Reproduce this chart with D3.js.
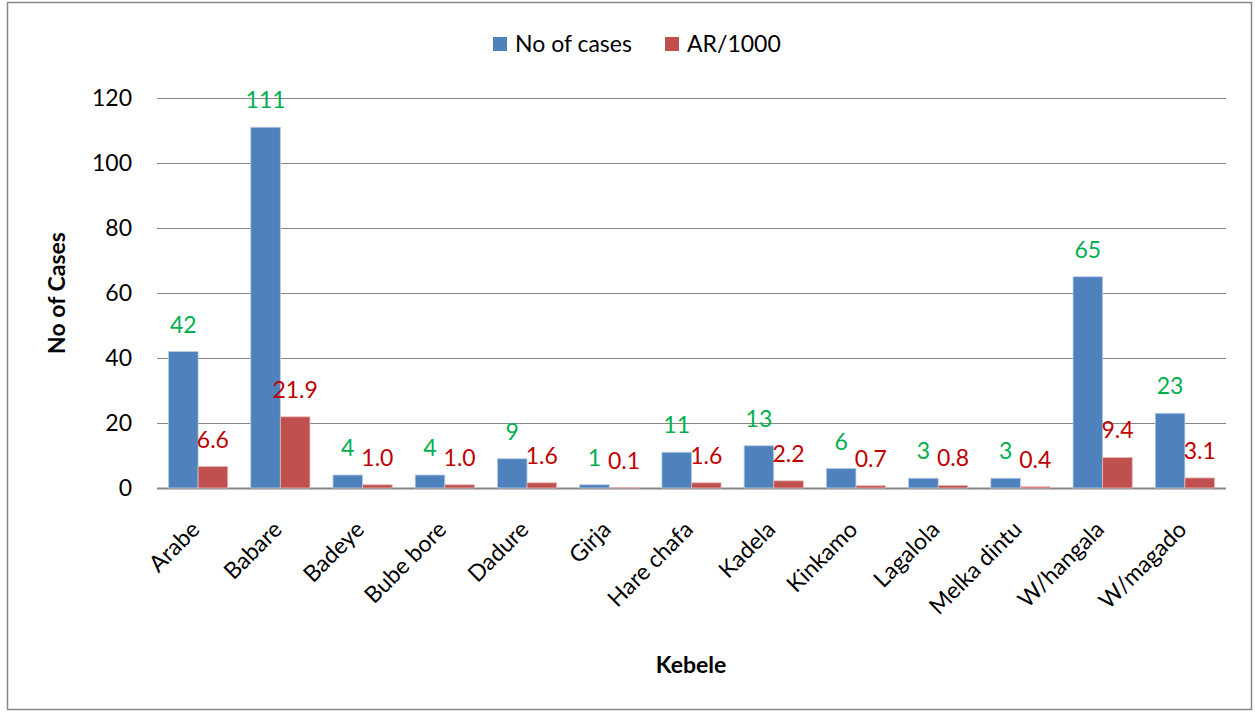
<!DOCTYPE html>
<html>
<head>
<meta charset="utf-8">
<script src="https://cdn.jsdelivr.net/npm/d3@7"></script>
<style>
	body { margin: 0; background: #fff; }
	text { font-family: Lato, "Open Sans", sans-serif; }
</style>
</head>
<body>
<div id="chart"></div>
<script>
var kebeles = ["Arabe", "Babare", "Badeye", "Bube bore", "Dadure", "Girja", "Hare chafa", "Kadela", "Kinkamo", "Lagalola", "Melka dintu", "W/hangala", "W/magado"];
var cases = [42, 111, 4, 4, 9, 1, 11, 13, 6, 3, 3, 65, 23];
var attackRate = [6.6, 21.9, 1.0, 1.0, 1.6, 0.1, 1.6, 2.2, 0.7, 0.8, 0.4, 9.4, 3.1];
var yTicks = [0, 20, 40, 60, 80, 100, 120];
var seriesNames = ["No of cases", "AR/1000"];

var width = 1255, height = 712;
var margins = { left: 157, right: 29, top: 98, bottom: 224 };
var colors = { cases: "#4f81bd", ar: "#c0504d", caseLabel: "#00b050", arLabel: "#c00000", grid: "#868686" };
var fontSize = "23px";

var svg = d3.select("#chart").append("svg")
	.attr("width", width)
	.attr("height", height);

// outer frame
svg.append("rect")
	.attr("x", 7.5).attr("y", 2.5)
	.attr("width", 1244).attr("height", 707)
	.attr("fill", "none")
	.attr("stroke", colors.grid)
	.attr("stroke-width", 1.5);

var x = d3.scaleBand()
	.domain(kebeles)
	.range([margins.left, width - margins.right])
	.paddingInner(0.28)
	.paddingOuter(0.14);

var xSub = d3.scaleBand()
	.domain(["cases", "ar"])
	.range([0, x.bandwidth()]);

var y = d3.scaleLinear()
	.domain([0, 120])
	.range([height - margins.bottom, margins.top]);

// gridlines
svg.append("g")
	.selectAll("line")
	.data(yTicks)
	.join("line")
	.attr("x1", margins.left)
	.attr("x2", width - margins.right)
	.attr("y1", function(d) { return Math.round(y(d)) + 0.5; })
	.attr("y2", function(d) { return Math.round(y(d)) + 0.5; })
	.attr("stroke", colors.grid)
	.attr("stroke-width", function(d) { return d === 0 ? 2 : 1.2; });

// y tick labels
svg.append("g")
	.selectAll("text")
	.data(yTicks)
	.join("text")
	.attr("x", 132)
	.attr("y", function(d) { return y(d) + 8; })
	.attr("text-anchor", "end")
	.style("font-size", fontSize)
	.attr("fill", "#000")
	.text(function(d) { return d; });

var groups = svg.append("g")
	.selectAll("g")
	.data(kebeles)
	.join("g")
	.attr("transform", function(d) { return "translate(" + x(d) + ",0)"; });

groups.append("rect")
	.attr("x", xSub("cases"))
	.attr("width", xSub.bandwidth())
	.attr("y", function(d, i) { return y(cases[i]); })
	.attr("height", function(d, i) { return y(0) - y(cases[i]); })
	.attr("fill", colors.cases)
	.attr("stroke", "#b9cde5")
	.attr("stroke-width", 0.8);

groups.append("rect")
	.attr("x", xSub("ar"))
	.attr("width", xSub.bandwidth())
	.attr("y", function(d, i) { return y(attackRate[i]); })
	.attr("height", function(d, i) { return y(0) - y(attackRate[i]); })
	.attr("fill", colors.ar)
	.attr("stroke", "#e6b9b8")
	.attr("stroke-width", 0.8);

// data labels
groups.append("text")
	.attr("x", xSub("cases") + xSub.bandwidth() / 2)
	.attr("y", function(d, i) { return y(cases[i]) - 19; })
	.attr("text-anchor", "middle")
	.style("font-size", fontSize)
	.attr("fill", colors.caseLabel)
	.text(function(d, i) { return cases[i]; });

groups.append("text")
	.attr("x", xSub("ar") + xSub.bandwidth() / 2)
	.attr("y", function(d, i) { return y(attackRate[i]) - 19; })
	.attr("text-anchor", "middle")
	.style("font-size", fontSize)
	.attr("fill", colors.arLabel)
	.text(function(d, i) { return attackRate[i].toFixed(1); });

// category labels
svg.append("g")
	.selectAll("text")
	.data(kebeles)
	.join("text")
	.attr("transform", function(d) {
		return "translate(" + (x(d) + x.bandwidth() / 2 + 3) + "," + 531 + ") rotate(-45)";
	})
	.attr("text-anchor", "end")
	.style("font-size", fontSize)
	.attr("fill", "#000")
	.text(function(d) { return d; });

// axis titles
svg.append("text")
	.attr("transform", "translate(65,293) rotate(-90)")
	.attr("text-anchor", "middle")
	.style("font-size", fontSize)
	.style("font-weight", "bold")
	.text("No of Cases");

svg.append("text")
	.attr("x", 691)
	.attr("y", 673)
	.attr("text-anchor", "middle")
	.style("font-size", fontSize)
	.style("font-weight", "bold")
	.text("Kebele");

// legend
var legend = svg.append("g");
var legendX = [493, 665];
var legendColors = [colors.cases, colors.ar];
seriesNames.forEach(function(name, i) {
	legend.append("rect")
		.attr("x", legendX[i]).attr("y", 37)
		.attr("width", 14).attr("height", 14)
		.attr("fill", legendColors[i]);
	legend.append("text")
		.attr("x", legendX[i] + 22)
		.attr("y", 52)
		.style("font-size", fontSize)
		.text(name);
});
</script>
</body>
</html>
